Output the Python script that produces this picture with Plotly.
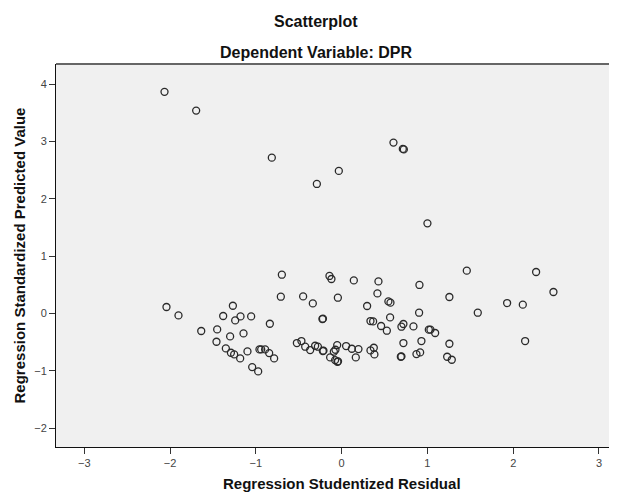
import plotly.graph_objects as go

# Regression Studentized Residual (x) and Regression Standardized Predicted Value (y)
residual = [
    -2.065, -1.696, -0.814, -0.033, -0.289, 0.604, 0.713, 0.725, 1.000,
    -2.042, -1.902, -1.268, -1.381, -1.179, -1.055, -1.241, -1.637, -1.451,
    -1.144, -1.300, -1.459, -1.350, -1.291, -1.253, -1.183, -1.098, -0.958,
    -1.043, -0.973, -0.697, -0.709, -0.837, -0.449, -0.336, -0.142, -0.119,
    -0.044, -0.224, -0.218, 0.142, 0.429, 0.417, 0.297, 0.545, 0.569,
    0.907, 0.903, 1.256, 0.565, 0.336, 0.367, 0.460, 0.527, 0.697,
    0.720, 0.837, 1.016, 1.035, 1.090, 0.930, 0.720, 1.256, 0.690,
    0.697, 0.872, 0.915, 1.230, 1.284, -0.938, -0.892, -0.845, -0.787,
    -0.522, -0.469, -0.425, -0.367, -0.309, -0.277, -0.219, -0.212, -0.134,
    -0.091, -0.072, -0.052, -0.076, -0.049, -0.042, 0.052, 0.119, 0.196,
    0.165, 0.336, 0.375, 0.382, 1.459, 2.267, 2.469, 1.929, 2.112,
    1.587, 2.139,
]
predicted = [
    3.864, 3.538, 2.717, 2.485, 2.258, 2.979, 2.869, 2.860, 1.571,
    0.112, -0.035, 0.134, -0.045, -0.052, -0.052, -0.122, -0.307, -0.279,
    -0.349, -0.401, -0.494, -0.611, -0.686, -0.715, -0.785, -0.663, -0.628,
    -0.936, -1.012, 0.675, 0.291, -0.180, 0.297, 0.175, 0.653, 0.600,
    0.274, -0.098, -0.092, 0.576, 0.558, 0.349, 0.129, 0.209, 0.187,
    0.496, 0.012, 0.286, -0.070, -0.133, -0.140, -0.220, -0.302, -0.232,
    -0.185, -0.227, -0.284, -0.284, -0.342, -0.482, -0.517, -0.529, -0.756,
    -0.750, -0.709, -0.680, -0.756, -0.808, -0.628, -0.628, -0.692, -0.785,
    -0.517, -0.482, -0.581, -0.639, -0.564, -0.581, -0.656, -0.650, -0.768,
    -0.668, -0.634, -0.552, -0.814, -0.843, -0.836, -0.569, -0.616, -0.622,
    -0.768, -0.645, -0.599, -0.715, 0.745, 0.722, 0.373, 0.181, 0.152,
    0.012, -0.482,
]
x_ticks = [-3, -2, -1, 0, 1, 2, 3]
y_ticks = [-2, -1, 0, 1, 2, 3, 4]

FONT = "Liberation Sans, Arial, sans-serif"

fig = go.Figure()
fig.add_trace(go.Scatter(
    x=residual, y=predicted, mode="markers",
    marker=dict(symbol="circle-open", size=7, color="#2a2a2a",
                line=dict(width=1.3, color="#2a2a2a")),
    hoverinfo="x+y", showlegend=False,
))

# The page body adds an 8px offset, so the figure is 8px smaller than the window.
fig.update_layout(
    width=609, height=488,
    margin=dict(l=48, r=0, t=56, b=49),
    paper_bgcolor="white", plot_bgcolor="#f0f0f0",
    font=dict(family=FONT, color="#333333"),
    xaxis=dict(range=[-3.33, 3.21], tickvals=x_ticks, ticks="outside", ticklen=6,
               tickcolor="#333333", tickfont=dict(size=11, color="#444444"),
               showgrid=False, zeroline=False, showline=True, linecolor="#111111",
               linewidth=1),
    yaxis=dict(range=[-2.33, 4.35], tickvals=y_ticks, ticks="outside", ticklen=6,
               tickcolor="#333333", tickfont=dict(size=11, color="#444444"),
               showgrid=False, zeroline=False, showline=True, linecolor="#111111",
               linewidth=1),
    shapes=[dict(type="line", xref="paper", yref="paper", x0=0, x1=1, y0=1, y1=1,
                 line=dict(color="#666666", width=2))],
    annotations=[
        dict(text="<b>Scatterplot</b>", xref="paper", yref="paper",
             x=0.4635, y=1.11, xanchor="center", yanchor="middle", showarrow=False,
             font=dict(size=16, color="#111111", family=FONT)),
        dict(text="<b>Dependent Variable: DPR</b>", xref="paper", yref="paper",
             x=0.4635, y=1.03, xanchor="center", yanchor="middle", showarrow=False,
             font=dict(size=16, color="#111111", family=FONT)),
        dict(text="<b>Regression Studentized Residual</b>", xref="paper", yref="paper",
             x=0.51, y=-0.0966, xanchor="center", yanchor="middle", showarrow=False,
             font=dict(size=15, color="#111111", family=FONT)),
        dict(text="<b>Regression Standardized Predicted Value</b>", xref="paper",
             yref="paper", x=-0.0642, y=0.5, xanchor="center", yanchor="middle",
             textangle=-90, showarrow=False,
             font=dict(size=15, color="#111111", family=FONT)),
    ],
)

fig.write_html("out.html")
